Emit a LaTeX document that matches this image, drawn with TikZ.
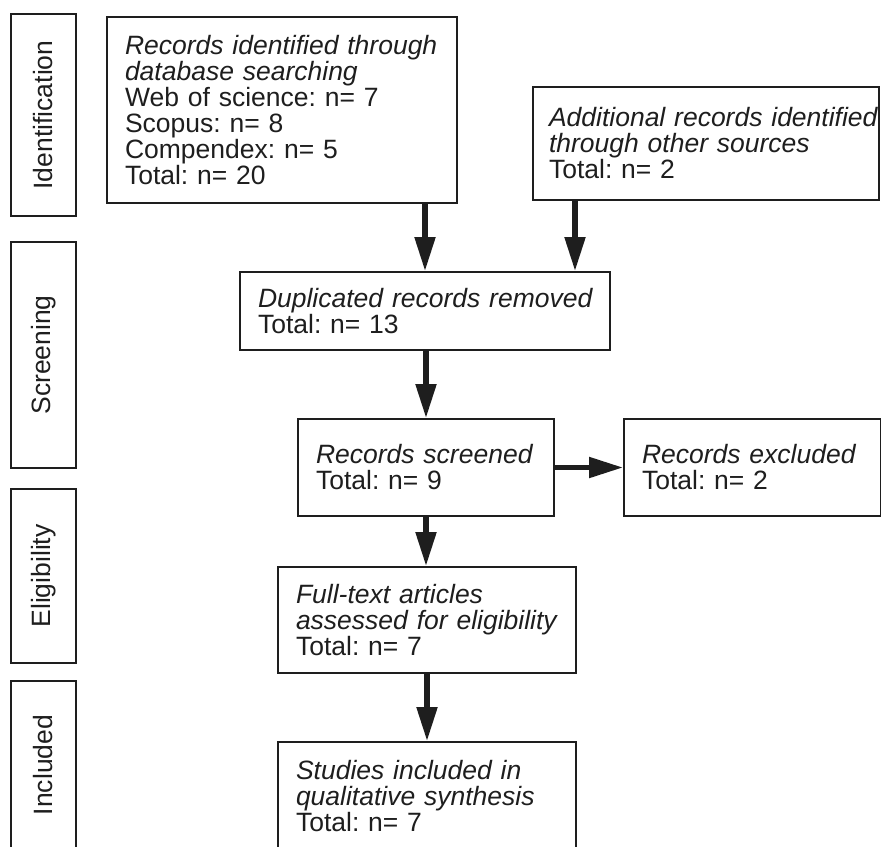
\documentclass[tikz,border=0pt]{standalone}
\usepackage{fontspec}
\setmainfont{Liberation Sans}
\usetikzlibrary{positioning,arrows.meta}
\definecolor{ink}{HTML}{1E1E1E}
\newcommand{\rechead}[1]{\mbox{\itshape #1}}
\frenchspacing
\tikzset{
  stagebox/.style={draw=ink,line width=1pt,rotate=90,inner sep=0pt,minimum height=32.5pt},
  recbox/.style={draw=ink,line width=1pt,inner xsep=9pt,inner ysep=0pt,align=left},
  flow/.style={draw=ink,line width=2.6pt,-{Triangle[length=17pt,width=10pt]}}
}

\begin{document}
\begin{tikzpicture}[x=0.5pt,y=-0.5pt,font=\fontsize{13.25}{13}\selectfont,text=ink]
\useasboundingbox (0,0) rectangle (881,846);
\clip (0,0) rectangle (881,846);

% phases on the left
\node[stagebox,minimum width=101pt] (ident) at (43.5,115) {Identification};
\node[stagebox,minimum width=113pt] (screen) at (43.5,355) {Screening};
\node[stagebox,minimum width=87pt] (elig) at (43.5,576) {Eligibility};
\node[stagebox,minimum width=84pt] (incl) at (43.5,765) {Included};

% records
\node[recbox,minimum width=175pt,minimum height=93pt,text width=157pt] (db) at (282,110)
  {\rechead{Records identified through}\\\rechead{database searching}\\Web of science: n= 7\\Scopus: n= 8\\Compendex: n= 5\\Total: n= 20};
\node[recbox,inner xsep=8pt,minimum width=173pt,minimum height=56.5pt,text width=157pt] (other) at (706,143.5)
  {\rechead{Additional records identified}\\\rechead{through other sources}\\Total: n= 2};
\node[recbox,minimum width=185pt,minimum height=39pt,text width=167pt] (dup) at (425,311)
  {\rechead{Duplicated records removed}\\Total: n= 13};
\node[recbox,minimum width=128pt,minimum height=48.5pt,text width=110pt] (screened) at (426,467.5)
  {\rechead{Records screened}\\Total: n= 9};
\node[recbox,minimum width=128.5pt,minimum height=48.5pt,text width=110.5pt,right=34pt of screened] (excluded)
  {\rechead{Records excluded}\\Total: n= 2};
\node[recbox,minimum width=149pt,minimum height=53pt,text width=131pt] (fulltext) at (427,620)
  {\rechead{Full-text articles}\\\rechead{assessed for eligibility}\\Total: n= 7};
\node[recbox,minimum width=149pt,minimum height=54.5pt,text width=131pt,below=33.5pt of fulltext] (studies)
  {\rechead{Studies included in}\\\rechead{qualitative synthesis}\\Total: n= 7};

% arrows
\coordinate (drop) at (575,0);
\draw[flow] (dup.north |- db.south) -- (dup.north);
\draw[flow] (drop |- other.south) -- (drop |- dup.north);
\draw[flow] (screened.north |- dup.south) -- (screened.north);
\draw[flow] (screened.east) -- (excluded.west);
\draw[flow] (screened.south) -- (screened.south |- fulltext.north);
\draw[flow] (fulltext.south) -- (studies.north);
\end{tikzpicture}
\end{document}
